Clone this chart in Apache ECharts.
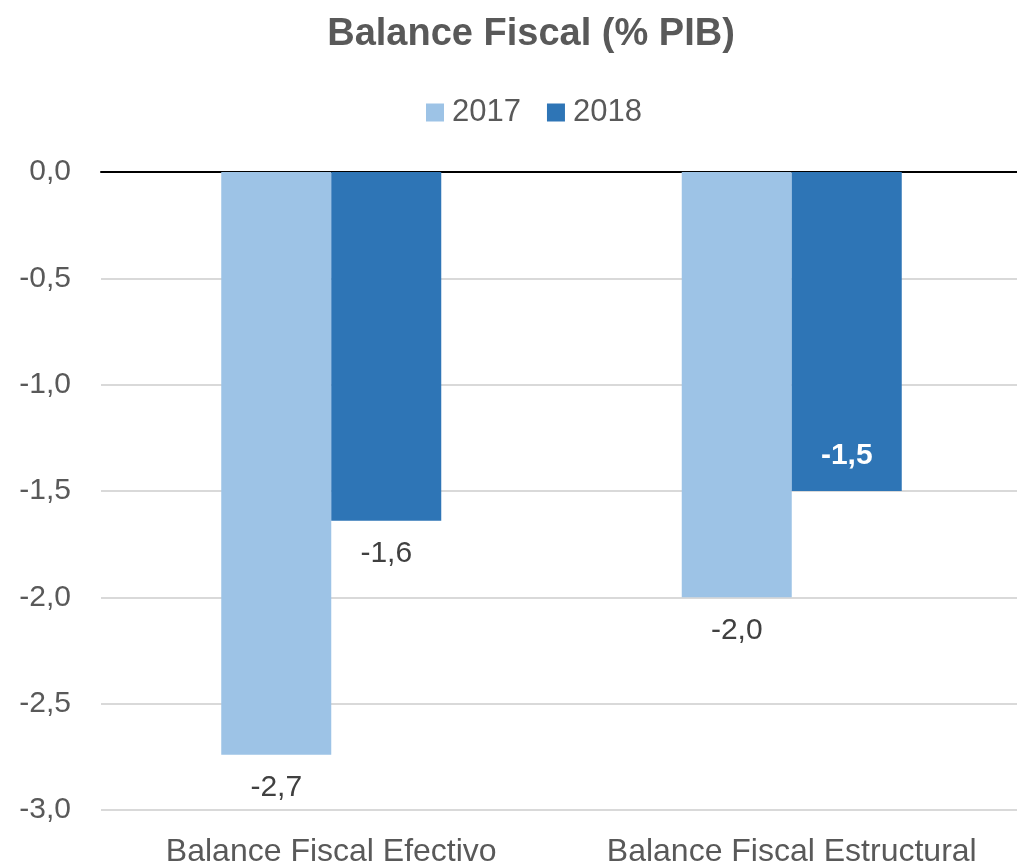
<!DOCTYPE html>
<html>
<head>
<meta charset="utf-8">
<script src="https://cdn.jsdelivr.net/npm/echarts@6/dist/echarts.min.js"></script>
<style>html,body{margin:0;padding:0;background:#fff}#c{width:1017px;height:865px}</style>
</head>
<body>
<div id="c"></div>
<script>
var categories = ['Balance Fiscal Efectivo', 'Balance Fiscal Estructural'];
var seriesNames = ['2017', '2018'];
var values2017 = [-2.74, -2.0];
var values2018 = [-1.64, -1.5];
var yTicks = [0, -0.5, -1.0, -1.5, -2.0, -2.5, -3.0];

var FONT = '"Liberation Sans", Arial, Helvetica, sans-serif';
function fmt(v) { return v.toFixed(1).replace('.', ','); }

var outsideLabel = { show: true, position: 'bottom', distance: 18, color: '#404040', fontSize: 30, fontFamily: FONT, formatter: function (p) { return fmt(p.value); } };
var insideLabel = { show: true, position: 'insideBottom', distance: 20, color: '#ffffff', fontSize: 30, fontWeight: 'bold', fontFamily: FONT, formatter: function (p) { return fmt(p.value); } };

function buildData(vals, insideFlags) {
  return vals.map(function (v, i) {
    return { value: v, label: insideFlags[i] ? insideLabel : outsideLabel };
  });
}

var chart = echarts.init(document.getElementById('c'), null, { renderer: 'canvas' });
chart.setOption({
  animation: false,
  backgroundColor: '#ffffff',
  title: {
    text: 'Balance Fiscal (% PIB)',
    left: 526, top: 11, textAlign: 'center',
    textStyle: { color: '#595959', fontSize: 38, fontWeight: 'bold', fontFamily: FONT }
  },
  legend: {
    data: seriesNames,
    left: 421, top: 92,
    icon: 'rect', itemWidth: 18, itemHeight: 18, itemGap: 26,
    textStyle: { color: '#595959', fontSize: 31, fontFamily: FONT, padding: [0, 0, 0, 3] }
  },
  grid: { left: 101, width: 921, top: 172, bottom: 55, containLabel: false, outerBoundsMode: 'none' },
  xAxis: [{
    type: 'category', data: categories, position: 'bottom',
    axisLine: { show: false }, axisTick: { show: false },
    axisLabel: { color: '#595959', fontSize: 32, fontFamily: FONT, margin: 26, interval: 0 }
  }, {
    type: 'category', data: categories, position: 'top',
    axisLine: { show: true, onZero: false, lineStyle: { color: '#000000', width: 2 } },
    axisTick: { show: false }, axisLabel: { show: false }
  }],
  yAxis: {
    type: 'value', min: -3, max: 0, interval: 0.5,
    axisLine: { show: false }, axisTick: { show: false },
    splitLine: { lineStyle: { color: '#d9d9d9', width: 2 } },
    axisLabel: { color: '#595959', fontSize: 30, fontFamily: FONT, margin: 30, formatter: function (v) { return fmt(v); } }
  },
  series: [{
    name: seriesNames[0], type: 'bar', barWidth: 110, barGap: '0%',
    itemStyle: { color: '#9dc3e6' },
    data: buildData(values2017, [false, false])
  }, {
    name: seriesNames[1], type: 'bar', barWidth: 110, barGap: '0%',
    itemStyle: { color: '#2e75b6' },
    data: buildData(values2018, [false, true])
  }]
});
</script>
</body>
</html>
